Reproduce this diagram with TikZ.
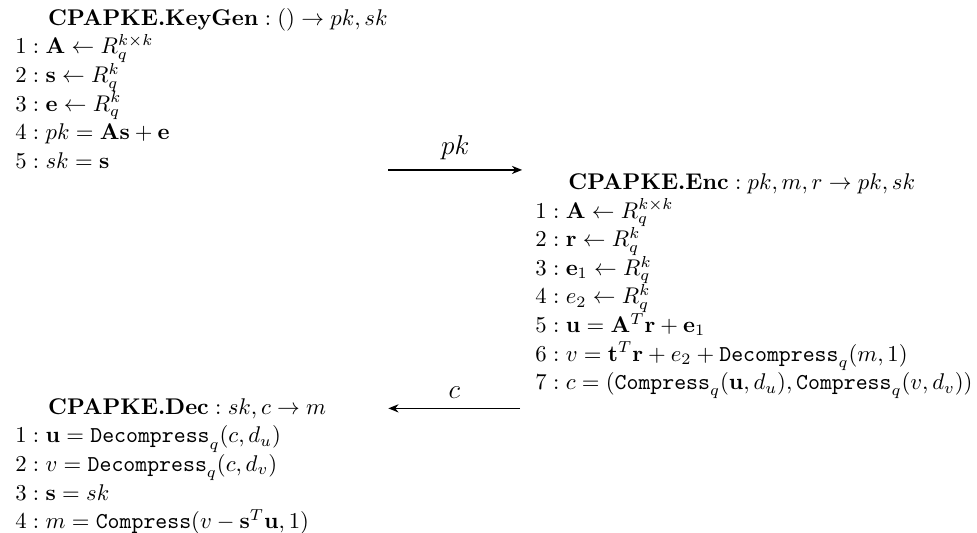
\documentclass[tikz,border=0pt]{standalone}
\usepackage{amsmath,amssymb}
\usepackage{tikz}
\usetikzlibrary{arrows.meta}

\begin{document}
\begin{tikzpicture}[algo/.style={align=left,inner sep=0pt,anchor=north west,
                      font=\fontsize{10}{12.6}\selectfont},
                    lbl/.style={inner sep=4pt,font=\large},
                    msg/.style={semithick,-{Stealth[length=4.5pt,width=3.6pt]}}]
  \useasboundingbox (0,0) rectangle (15.12,-8.24);
  \node[algo] (keygen) at (0.23,-0.12) {%
    \hspace*{14.5pt}$\textbf{CPAPKE.KeyGen}: () \to pk, sk$\\
    $1: \mathbf{A} \leftarrow R_q^{k\times k}$\\
    $2: \mathbf{s} \leftarrow R_q^{k}$\\
    $3: \mathbf{e} \leftarrow R_q^{k}$\\
    $4: pk = \mathbf{A}\mathbf{s} + \mathbf{e}$\\
    $5: sk = \mathbf{s}$};
  \node[algo] (enc) at (8.28,-2.68) {%
    \hspace*{14.5pt}$\textbf{CPAPKE.Enc}: pk, m, r \to pk, sk$\\
    $1: \mathbf{A} \leftarrow R_q^{k\times k}$\\
    $2: \mathbf{r} \leftarrow R_q^{k}$\\
    $3: \mathbf{e}_1 \leftarrow R_q^{k}$\\
    $4: e_2 \leftarrow R_q^{k}$\\
    $5: \mathbf{u} = \mathbf{A}^T\mathbf{r} + \mathbf{e}_1$\\
    $6: v = \mathbf{t}^T\mathbf{r} + e_2 + \texttt{Decompress}_q(m,1)$\\
    $7: c = (\texttt{Compress}_q(\mathbf{u},d_u), \texttt{Compress}_q(v,d_v))$};
  \node[algo] (dec) at (0.23,-6.16) {%
    \hspace*{14.5pt}$\textbf{CPAPKE.Dec}: sk, c \to m$\\
    $1: \mathbf{u} = \texttt{Decompress}_q(c,d_u)$\\
    $2: v = \texttt{Decompress}_q(c,d_v)$\\
    $3: \mathbf{s} = sk$\\
    $4: m = \texttt{Compress}(v - \mathbf{s}^T\mathbf{u}, 1)$};
  % messages between the parties
  \coordinate (pkfrom) at (6.01,-2.63);
  \coordinate (pkto) at (8.08,-2.63);
  \coordinate (cfrom) at (8.05,-6.32);
  \coordinate (cto) at (6.01,-6.32);
  \draw[msg] (pkfrom) -- (pkto) node[lbl,above,midway] (pk) {$pk$};
  \draw[msg] (cfrom) -- (cto) node[lbl,above,midway] (c) {$c$};
\end{tikzpicture}
\end{document}
